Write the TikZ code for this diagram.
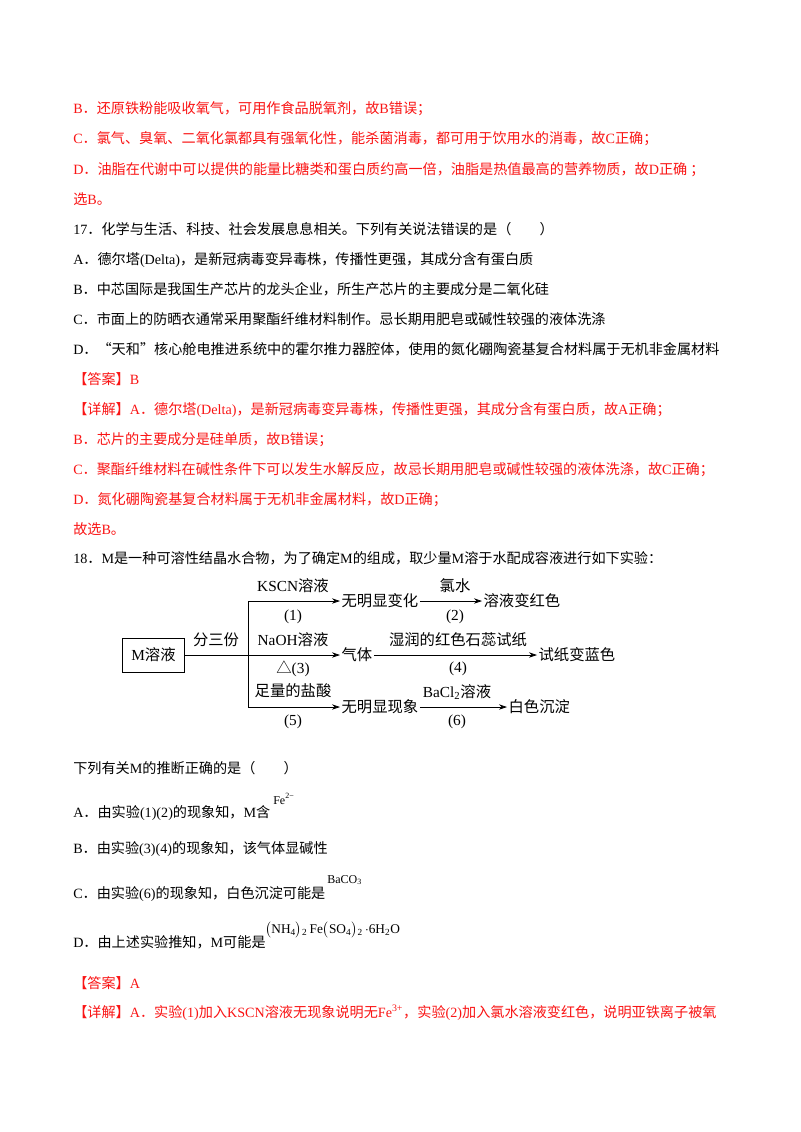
\documentclass[tikz,border=0pt]{standalone}
\usepackage{fontspec}
\setmainfont{Liberation Serif}
\newfontfamily\cjk{Noto Sans CJK SC}
\usetikzlibrary{arrows.meta}
\newcommand{\lt}[1]{{\rmfamily #1}}
\newcommand{\sps}[1]{\textsuperscript{#1}}
\definecolor{ansred}{RGB}{250,20,20}
\begin{document}
\begin{tikzpicture}[x=0.75pt,y=-0.75pt,
  ln/.style={anchor=base west,inner sep=0pt,font=\fontsize{10.6}{12}\cjk},
  rd/.style={ln,text=ansred},
  dg/.style={inner sep=1pt,font=\fontsize{11.5}{12}\cjk},
  arr/.style={-{Stealth[length=6pt,width=4pt]},line width=0.5pt}]
\fill[white] (0,0) rectangle (800,1132);
\node[rd] (l1) at (73,113) {\lt{B}．还原铁粉能吸收氧气，可用作食品脱氧剂，故\lt{B}错误；};
\node[rd] (l2) at (73,143) {\lt{C}．氯气、臭氧、二氧化氯都具有强氧化性，能杀菌消毒，都可用于饮用水的消毒，故\lt{C}正确；};
\node[rd] (l3) at (73,174) {\lt{D}．油脂在代谢中可以提供的能量比糖类和蛋白质约高一倍，油脂是热值最高的营养物质，故\lt{D}正确 ；};
\node[rd] (l4) at (73,204) {选\lt{B}。};
\node[ln] (l5) at (73,234) {\lt{17}．化学与生活、科技、社会发展息息相关。下列有关说法错误的是（　　）};
\node[ln] (l6) at (73,264) {\lt{A}．德尔塔\lt{(Delta)}，是新冠病毒变异毒株，传播性更强，其成分含有蛋白质};
\node[ln] (l7) at (73,294) {\lt{B}．中芯国际是我国生产芯片的龙头企业，所生产芯片的主要成分是二氧化硅};
\node[ln] (l8) at (73,324) {\lt{C}．市面上的防晒衣通常采用聚酯纤维材料制作。忌长期用肥皂或碱性较强的液体洗涤};
\node[ln] (l9) at (73,354) {\lt{D}．“天和”核心舱电推进系统中的霍尔推力器腔体，使用的氮化硼陶瓷基复合材料属于无机非金属材料};
\node[rd] (l10) at (73,384) {【答案】\lt{B}};
\node[rd] (l11) at (73,414) {【详解】\lt{A}．德尔塔\lt{(Delta)}，是新冠病毒变异毒株，传播性更强，其成分含有蛋白质，故\lt{A}正确；};
\node[rd] (l12) at (73,444) {\lt{B}．芯片的主要成分是硅单质，故\lt{B}错误；};
\node[rd] (l13) at (73,474) {\lt{C}．聚酯纤维材料在碱性条件下可以发生水解反应，故忌长期用肥皂或碱性较强的液体洗涤，故\lt{C}正确；};
\node[rd] (l14) at (73,504) {\lt{D}．氮化硼陶瓷基复合材料属于无机非金属材料，故\lt{D}正确；};
\node[rd] (l15) at (73,534) {故选\lt{B}。};
\node[ln] (l16) at (73,563) {\lt{18}．\lt{M}是一种可溶性结晶水合物，为了确定\lt{M}的组成，取少量\lt{M}溶于水配成容液进行如下实验：};
% diagram
\node[draw,line width=0.6pt,minimum width=47pt,minimum height=25.5pt,inner sep=2pt,font=\fontsize{11.5}{12}\cjk] (box) at (153.5,655) {\lt{M}溶液};
\coordinate (jt) at (248,601);
\coordinate (jm) at (248,655);
\coordinate (jb) at (248,707);
\node[dg,anchor=west] (n1) at (340,601) {无明显变化};
\node[dg,anchor=west] (n2) at (482,601) {溶液变红色};
\node[dg,anchor=west] (n3) at (340,655) {气体};
\node[dg,anchor=west] (n4) at (537,655) {试纸变蓝色};
\node[dg,anchor=west] (n5) at (340,707) {无明显现象};
\node[dg,anchor=west] (n6) at (507,707) {白色沉淀};
\draw[line width=0.5pt] (jt) -- (jb);
\draw[line width=0.5pt] (box.east) -- (jm);
\draw[arr] (jt) -- (n1.west);
\draw[arr] (jm) -- (n3.west);
\draw[arr] (jb) -- (n5.west);
\draw[arr] (n1.east) -- (n2.west);
\draw[arr] (n3.east) -- (n4.west);
\draw[arr] (n5.east) -- (n6.west);
\node[dg] (t0) at (216,640) {分三份};
\node[dg] (t1) at (293,586) {\lt{KSCN}溶液};
\node[dg] (t1b) at (293,617) {\lt{(1)}};
\node[dg] (t2) at (455,586) {氯水};
\node[dg] (t2b) at (455,617) {\lt{(2)}};
\node[dg] (t3) at (293,640) {\lt{NaOH}溶液};
\node[dg] (t3b) at (293,669) {△\lt{(3)}};
\node[dg] (t4) at (458,640) {湿润的红色石蕊试纸};
\node[dg] (t4b) at (458,669) {\lt{(4)}};
\node[dg] (t5) at (293,691) {足量的盐酸};
\node[dg] (t5b) at (293,722) {\lt{(5)}};
\node[dg] (t6) at (457,692) {\lt{BaCl\textsubscript{2}}溶液};
\node[dg] (t6b) at (457,722) {\lt{(6)}};
% questions
\node[ln] (q0) at (73,773) {下列有关\lt{M}的推断正确的是（　　）};
\node[ln] (qa) at (73,817) {\lt{A}．由实验\lt{(1)(2)}的现象知，\lt{M}含};
\node[ln,font=\fontsize{9}{10}\rmfamily] (fa) at (273,804) {Fe\sps{2−}};
\node[ln] (qb) at (73,853) {\lt{B}．由实验\lt{(3)(4)}的现象知，该气体显碱性};
\node[ln] (qc) at (73,898) {\lt{C}．由实验\lt{(6)}的现象知，白色沉淀可能是};
\node[ln,font=\fontsize{9}{10}\rmfamily] (fc) at (327,883) {BaCO\textsubscript{3}};
\node[ln] (qd) at (73,947) {\lt{D}．由上述实验推知，\lt{M}可能是};
\node[ln,font=\fontsize{10}{10}\rmfamily] (fd) at (265,933) {$\bigl($NH\textsubscript{4}$\bigr)$\textsubscript{2}\,Fe$\bigl($SO\textsubscript{4}$\bigr)$\textsubscript{2}\,$\cdot$6H\textsubscript{2}O};
\node[rd] (qe) at (73,988) {【答案】\lt{A}};
\node[rd] (qf) at (73,1017) {【详解】\lt{A}．实验\lt{(1)}加入\lt{KSCN}溶液无现象说明无\lt{Fe\sps{3+}}，实验\lt{(2)}加入氯水溶液变红色，说明亚铁离子被氧};
\end{tikzpicture}
\end{document}
